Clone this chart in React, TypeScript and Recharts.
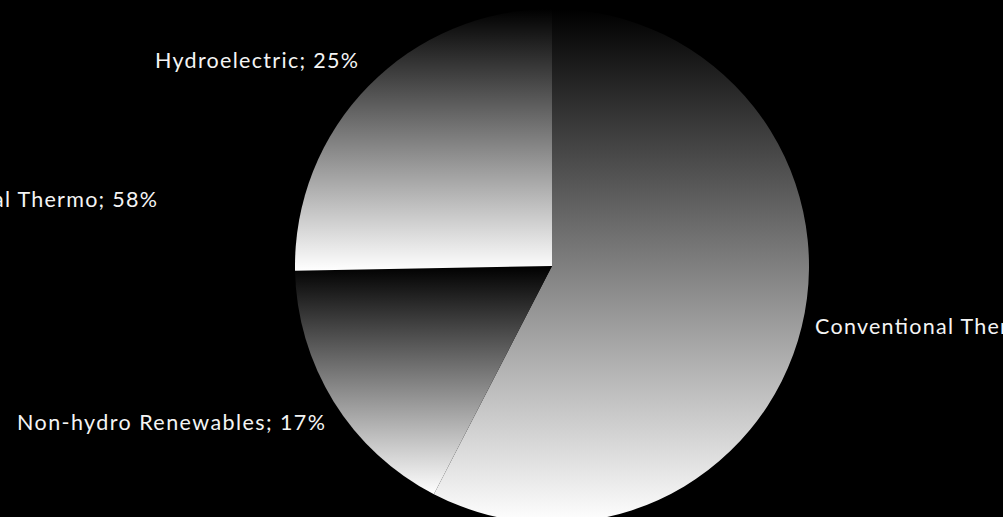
import { PieChart, Pie, Cell } from "recharts";

const sources = ["Conventional Thermo", "Non-hydro Renewables", "Hydroelectric"];
const shares = [57.6, 17.1, 25.3];
const gradientIds = ["gradConv", "gradNonHydro", "gradHydro"];

const data = sources.map((name, i) => ({ name, value: shares[i] }));

// where each label sits (x, baseline y, anchor start, stretched width)
const labelSpots: { x: number; y: number; w: number }[][] = [
  [
    { x: -128, y: 207, w: 285 },
    { x: 815, y: 334, w: 285 },
  ],
  [{ x: 17, y: 430, w: 308 }],
  [{ x: 155, y: 68, w: 203 }],
];

// eslint-disable-next-line @typescript-eslint/no-explicit-any
function renderLabel(props: any) {
  const { index, name, percent } = props;
  const text = `${name}; ${Math.round(percent * 100)}%`;
  return (
    <g key={`lbl-${index}`}>
      {labelSpots[index].map((s, j) => (
        <text
          key={j}
          x={s.x}
          y={s.y}
          textAnchor="start"
          fill="#f4f4f4"
          fontSize={21.5}
          fontFamily="Lato, 'Open Sans', sans-serif"
          textLength={s.w}
          lengthAdjust="spacing"
        >
          {text}
        </text>
      ))}
    </g>
  );
}

export default function App() {
  return (
    <div style={{ position: "absolute", left: 0, top: 0, width: 1003, height: 517, background: "#000", overflow: "hidden" }}>
      <svg width={0} height={0} style={{ position: "absolute" }}>
        <defs>
          {gradientIds.map((id) => (
            <linearGradient key={id} id={id} x1="0" y1="0" x2="0" y2="1">
              <stop offset="0%" stopColor="#000000" />
              <stop offset="100%" stopColor="#ffffff" />
            </linearGradient>
          ))}
        </defs>
      </svg>
      <PieChart width={1003} height={517} margin={{ top: 0, right: 0, bottom: 0, left: 0 }} style={{ background: "#000" }}>
        <Pie
          data={data}
          dataKey="value"
          nameKey="name"
          cx={552}
          cy={266}
          outerRadius={257}
          startAngle={90}
          endAngle={-270}
          stroke="none"
          label={renderLabel}
          labelLine={false}
          isAnimationActive={false}
        >
          {data.map((d, i) => (
            <Cell key={d.name} fill={`url(#${gradientIds[i]})`} />
          ))}
        </Pie>
      </PieChart>
    </div>
  );
}
